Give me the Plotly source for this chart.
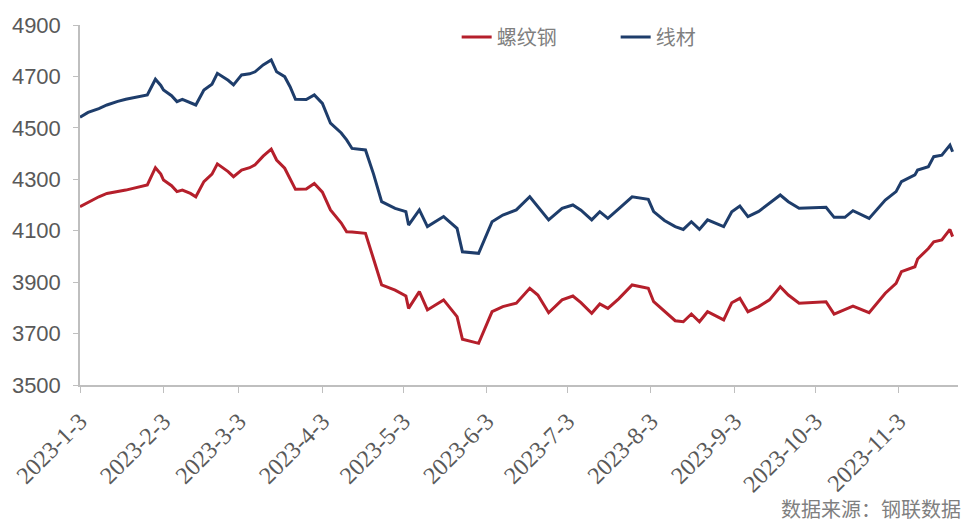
import plotly.graph_objects as go

dates = [
    "2023-01-03", "2023-01-06", "2023-01-10", "2023-01-13", "2023-01-17", "2023-01-20",
    "2023-01-28", "2023-01-31", "2023-02-02", "2023-02-03", "2023-02-06", "2023-02-08",
    "2023-02-10", "2023-02-13", "2023-02-15", "2023-02-18", "2023-02-21", "2023-02-23",
    "2023-02-27", "2023-03-01", "2023-03-04", "2023-03-07", "2023-03-09", "2023-03-12",
    "2023-03-15", "2023-03-17", "2023-03-20", "2023-03-22", "2023-03-24", "2023-03-28",
    "2023-03-31", "2023-04-03", "2023-04-06", "2023-04-10", "2023-04-12", "2023-04-14",
    "2023-04-19", "2023-04-22", "2023-04-25", "2023-04-30", "2023-05-04", "2023-05-05",
    "2023-05-09", "2023-05-12", "2023-05-18", "2023-05-23", "2023-05-25", "2023-05-31",
    "2023-06-05", "2023-06-09", "2023-06-14", "2023-06-19", "2023-06-22", "2023-06-26",
    "2023-07-01", "2023-07-05", "2023-07-08", "2023-07-12", "2023-07-15", "2023-07-18",
    "2023-07-22", "2023-07-27", "2023-08-02", "2023-08-04", "2023-08-08", "2023-08-12",
    "2023-08-15", "2023-08-18", "2023-08-21", "2023-08-24", "2023-08-30", "2023-09-02",
    "2023-09-05", "2023-09-08", "2023-09-12", "2023-09-16", "2023-09-20", "2023-09-23",
    "2023-09-27", "2023-10-07", "2023-10-10", "2023-10-14", "2023-10-17", "2023-10-23",
    "2023-10-29", "2023-11-02", "2023-11-04", "2023-11-09", "2023-11-10", "2023-11-14",
    "2023-11-16", "2023-11-19", "2023-11-22", "2023-11-23",
]

rebar = [
    4193, 4210, 4232, 4245, 4252, 4258,
    4278, 4345, 4320, 4297, 4275, 4252,
    4258, 4245, 4232, 4291, 4320, 4360,
    4330, 4310, 4336, 4345, 4356, 4390,
    4417, 4375, 4343, 4300, 4261, 4262,
    4284, 4250, 4181, 4130, 4096, 4095,
    4090, 3990, 3889, 3869, 3846, 3798,
    3863, 3792, 3831, 3766, 3678, 3662,
    3785, 3805, 3818, 3876, 3850, 3781,
    3831, 3846, 3820, 3779, 3815, 3798,
    3835, 3889, 3876, 3824, 3785, 3750,
    3746, 3776, 3746, 3785, 3753, 3820,
    3837, 3785, 3805, 3831, 3882, 3850,
    3818, 3824, 3776, 3792, 3807, 3781,
    3857, 3895, 3941, 3960, 3990, 4031,
    4057, 4064, 4105, 4077,
]

wire = [
    4541, 4560, 4575, 4589, 4603, 4611,
    4628, 4689, 4665, 4647, 4625, 4602,
    4611, 4598, 4589, 4647, 4670, 4712,
    4685, 4667, 4706, 4710, 4718, 4745,
    4764, 4718, 4699, 4660, 4611, 4610,
    4628, 4595, 4518, 4480, 4453, 4420,
    4414, 4320, 4213, 4187, 4174, 4122,
    4181, 4116, 4155, 4109, 4018, 4012,
    4135, 4161, 4181, 4232, 4193, 4142,
    4187, 4200, 4180, 4142, 4174, 4148,
    4185, 4232, 4222, 4174, 4140, 4116,
    4105, 4135, 4105, 4142, 4116, 4174,
    4196, 4155, 4175, 4207, 4239, 4213,
    4187, 4191, 4152, 4152, 4178, 4148,
    4219, 4252, 4291, 4317, 4336, 4349,
    4388, 4394, 4433, 4407,
]

tick_dates = ["2023-01-03", "2023-02-03", "2023-03-03", "2023-04-03", "2023-05-03",
              "2023-06-03", "2023-07-03", "2023-08-03", "2023-09-03", "2023-10-03",
              "2023-11-03"]
tick_labels = ["2023-1-3", "2023-2-3", "2023-3-3", "2023-4-3", "2023-5-3", "2023-6-3",
               "2023-7-3", "2023-8-3", "2023-9-3", "2023-10-3", "2023-11-3"]

fig = go.Figure()
fig.add_trace(go.Scatter(x=dates, y=rebar, mode="lines", name="螺纹钢",
                         line=dict(color="#B51F2B", width=3)))
fig.add_trace(go.Scatter(x=dates, y=wire, mode="lines", name="线材",
                         line=dict(color="#1E3D6B", width=3)))

fig.update_layout(
    width=976, height=524,
    margin=dict(l=80, r=18, t=25, b=139),
    paper_bgcolor="white", plot_bgcolor="white",
    showlegend=True,
    legend=dict(orientation="h", x=0.429, xanchor="left", y=0.967, yanchor="middle",
                entrywidth=114, entrywidthmode="pixels",
                font=dict(family="Noto Sans CJK SC", size=20, color="#7f7f7f"),
                bgcolor="rgba(0,0,0,0)"),
    xaxis=dict(type="date", range=["2023-01-03", "2023-11-25"],
               tickvals=tick_dates, ticktext=tick_labels, tickangle=-45,
               showgrid=False, zeroline=False, automargin=False,
               showline=True, linecolor="#bfbfbf", linewidth=1.5,
               ticks="outside", ticklen=6, tickcolor="#bfbfbf",
               ticklabelstandoff=5,
               tickfont=dict(family="Liberation Serif", size=24, color="#595959")),
    yaxis=dict(range=[3500, 4900], dtick=200, tick0=3500,
               showgrid=False, zeroline=False, automargin=False,
               showline=True, linecolor="#bfbfbf", linewidth=1.5,
               ticks="outside", ticklen=5, tickcolor="#bfbfbf",
               ticklabelstandoff=8,
               tickfont=dict(family="Liberation Sans", size=22, color="#595959")),
    annotations=[dict(text="数据来源：钢联数据", xref="paper", yref="paper",
                      x=1.006, xanchor="right", y=-0.342, yanchor="middle",
                      showarrow=False,
                      font=dict(family="Noto Sans CJK SC", size=20, color="#7f7f7f"))],
)

fig.write_html("out.html", config={"displayModeBar": False},
               post_script="document.body.style.margin='0';")
